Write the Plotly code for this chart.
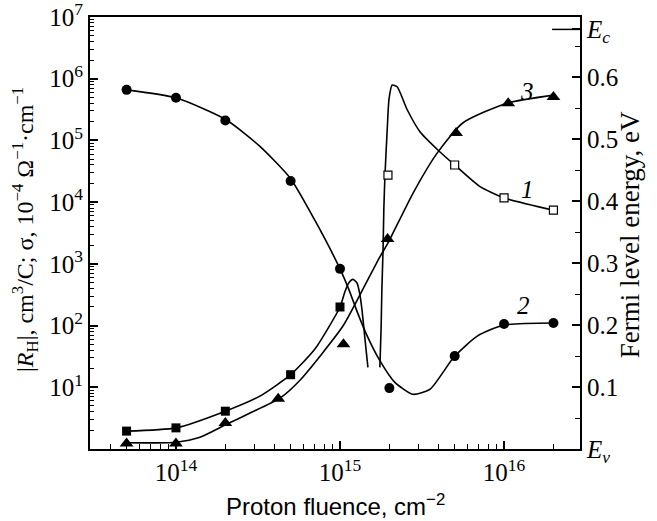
import plotly.graph_objects as go

# ---------------- data ----------------
# curve 2: conductivity sigma (filled circles, left axis)
F_sigma = [5e13, 1e14, 2e14, 5e14, 1e15, 2e15, 5e15, 1e16, 2e16]
sigma = [6.6e5, 4.9e5, 2.1e5, 2.2e4, 830, 9.7, 32, 106, 110]

# curve 1: |R_H| (filled squares low fluence, open squares high fluence, left axis)
F_rh_closed = [5e13, 1e14, 2e14, 5e14, 1e15]
rh_closed = [1.95, 2.2, 4.1, 16, 200]
F_rh_open = [1.96e15, 5e15, 1e16, 2e16]
rh_open = [2.75e4, 4.0e4, 1.17e4, 7.4e3]

# curve 3: Fermi level (triangles, right axis)
F_fermi = [5e13, 1e14, 2e14, 4.2e14, 1.05e15, 1.95e15, 5.1e15, 1.06e16, 2e16]
fermi = [0.009, 0.009, 0.042, 0.081, 0.169, 0.339, 0.51, 0.558, 0.568]

# hand-drawn guide curves
F_sigma_fit = [5e13, 1e14, 2e14, 3.25e14, 5e14, 7.05e14, 1e15, 1.13e15, 1.27e15, 1.45e15,
               1.75e15, 2.16e15, 2.79e15, 3.54e15, 4.95e15, 6.9e15, 1e16, 2e16]
sigma_fit = [6.6e5, 4.9e5, 2.2e5, 8.0e4, 2.4e4, 5.0e3, 830, 390, 170, 72,
             27, 12, 7.7, 9.3, 31, 68, 102, 110]

F_rh_fit_low = [5e13, 1e14, 2e14, 3.25e14, 5e14, 7.05e14, 1e15, 1.07e15, 1.13e15,
                1.2e15, 1.27e15, 1.32e15, 1.36e15, 1.4e15, 1.44e15, 1.48e15]
rh_fit_low = [1.95, 2.2, 4.1, 7.2, 16, 42, 200, 350, 490,
              560, 490, 325, 185, 88, 42, 21]

F_rh_fit_high = [1.75e15, 1.78e15, 1.8e15, 1.83e15, 1.85e15, 1.88e15, 1.94e15, 1.99e15,
                 2.08e15, 2.23e15, 2.56e15, 3.08e15, 4.07e15, 4.95e15, 7.1e15, 1e16, 2e16]
rh_fit_high = [21, 88, 390, 1.7e3, 7.7e3, 2.75e4, 1.5e5, 4.7e5,
               7.9e5, 7.4e5, 3.2e5, 1.37e5, 6.5e4, 4.1e4, 1.8e4, 1.17e4, 7.4e3]

F_fermi_fit = [5e13, 1e14, 1.4e14, 2e14, 2.83e14, 4.3e14, 5.7e14, 1.04e15, 1.38e15,
               1.75e15, 1.94e15, 2.79e15, 3.9e15, 5.6e15, 1.04e16, 2e16]
fermi_fit = [0.010, 0.011, 0.019, 0.039, 0.058, 0.082, 0.111, 0.198, 0.258,
             0.310, 0.330, 0.413, 0.477, 0.526, 0.558, 0.571]

# axis ticks / labels
x_tickvals = [1e14, 1e15, 1e16]
x_ticktext = ["10<sup>14</sup>", "10<sup>15</sup>", "10<sup>16</sup>"]
x_minor = [m * 10.0 ** d for d in range(13, 17) for m in range(2, 10)]
y_tickvals = [1e1, 1e2, 1e3, 1e4, 1e5, 1e6, 1e7]
y_ticktext = ["10<sup>%d</sup>" % k for k in range(1, 8)]
y_minor = [m * 10.0 ** d for d in range(0, 7) for m in range(2, 10)]
EC = 0.677
y2_tickvals = [0.0, 0.1, 0.2, 0.3, 0.4, 0.5, 0.6, EC]
y2_ticktext = ["<i>E<sub>v</sub></i>", "0.1", "0.2", "0.3", "0.4", "0.5", "0.6", "<i>E<sub>c</sub></i>"]
y2_minor = [0.05, 0.15, 0.25, 0.35, 0.45, 0.55, 0.65]

curve_labels = ["1", "2", "3"]
label_x = [16.14, 16.12, 16.14]      # log10 fluence
label_y = [4.21, 2.32, 5.80]         # log10 of left axis

x_title = "Proton fluence, cm<sup>−2</sup>"
y_title = "|<i>R</i><sub>H</sub>|, cm<sup>3</sup>/C; σ, 10<sup>−4</sup> Ω<sup>−1</sup>·cm<sup>−1</sup>"
y2_title = "Fermi level energy, eV"

# ---------------- figure ----------------
LW = 1.6
fig = go.Figure()
line_style = dict(color="black", width=LW, shape="spline", smoothing=0.6)

fig.add_trace(go.Scatter(x=F_sigma_fit, y=sigma_fit, mode="lines", line=line_style, hoverinfo="skip"))
fig.add_trace(go.Scatter(x=F_rh_fit_low, y=rh_fit_low, mode="lines", line=line_style, hoverinfo="skip"))
fig.add_trace(go.Scatter(x=F_rh_fit_high, y=rh_fit_high, mode="lines", line=line_style, hoverinfo="skip"))
fig.add_trace(go.Scatter(x=F_fermi_fit, y=fermi_fit, mode="lines", line=line_style, yaxis="y2", hoverinfo="skip"))

fig.add_trace(go.Scatter(x=F_sigma, y=sigma, mode="markers",
                         marker=dict(symbol="circle", size=10, color="black")))
fig.add_trace(go.Scatter(x=F_rh_closed, y=rh_closed, mode="markers",
                         marker=dict(symbol="square", size=9, color="black")))
fig.add_trace(go.Scatter(x=F_rh_open, y=rh_open, mode="markers",
                         marker=dict(symbol="square", size=8, color="white",
                                     line=dict(color="black", width=1.2))))
fig.add_trace(go.Scatter(x=F_fermi, y=fermi, mode="markers", yaxis="y2",
                         marker=dict(symbol="triangle-up", size=12, color="black")))

for t, lx, ly in zip(curve_labels, label_x, label_y):
    fig.add_annotation(x=lx, y=ly, xref="x", yref="y", text="<i>%s</i>" % t, showarrow=False,
                       font=dict(family="Liberation Serif", size=25, color="black"))

# axis titles placed as annotations
fig.add_annotation(x=-0.133, y=0.509, xref="paper", yref="paper", text=y_title, textangle=-90,
                   showarrow=False, xanchor="center", yanchor="middle",
                   font=dict(family="Liberation Serif", size=24, color="black"))
fig.add_annotation(x=1.102, y=0.497, xref="paper", yref="paper", text=y2_title, textangle=-90,
                   showarrow=False, xanchor="center", yanchor="middle",
                   font=dict(family="Liberation Serif", size=27, color="black"))
fig.add_annotation(x=0.5, y=-0.13, xref="paper", yref="paper", text=x_title,
                   showarrow=False, xanchor="center", yanchor="middle",
                   font=dict(family="Liberation Sans", size=24, color="black"))

# long Ec marker line on right axis
fig.add_shape(type="line", xref="paper", x0=0.943, x1=1.0, yref="y2", y0=EC, y1=EC,
              line=dict(color="black", width=1.5))

tickfont = dict(family="Liberation Serif", size=25, color="black")
common = dict(ticks="inside", ticklen=8, tickwidth=1.5, tickcolor="black", automargin=False,
              showgrid=False, zeroline=False, showline=True, linewidth=2, linecolor="black",
              tickfont=tickfont, ticklabeloverflow="allow", tickmode="array")
fig.update_layout(
    width=657, height=521,
    margin=dict(l=90, r=77, t=17, b=72),
    paper_bgcolor="white", plot_bgcolor="white",
    showlegend=False,
    xaxis=dict(type="log", range=[13.476, 16.463], tickvals=x_tickvals, ticktext=x_ticktext,
               minor=dict(tickvals=x_minor, ticks="inside", ticklen=5, tickwidth=1.2,
                          tickcolor="black", showgrid=False),
               mirror=True, **common),
    yaxis=dict(type="log", range=[0, 7], tickvals=y_tickvals, ticktext=y_ticktext,
               minor=dict(tickvals=y_minor, ticks="inside", ticklen=4, tickwidth=1.2,
                          tickcolor="black", showgrid=False),
               **common),
    yaxis2=dict(overlaying="y", side="right", range=[0, 0.697],
                tickvals=y2_tickvals, ticktext=y2_ticktext,
                minor=dict(tickvals=y2_minor, ticks="inside", ticklen=5, tickwidth=1.2,
                           tickcolor="black", showgrid=False),
                **common),
)

fig.write_html("out.html", config={"displayModeBar": False},
               post_script="document.body.style.margin='0';document.body.style.overflow='hidden';")
